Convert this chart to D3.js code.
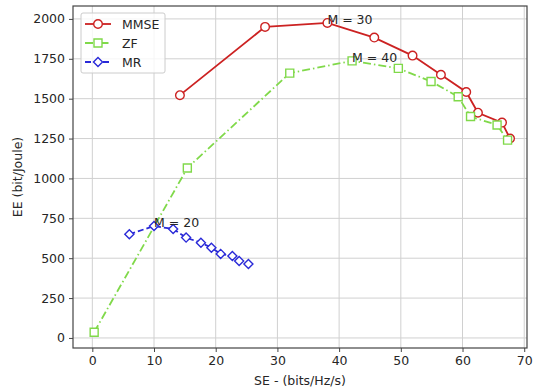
<!DOCTYPE html>
<html>
<head>
<meta charset="utf-8">
<script src="https://cdn.jsdelivr.net/npm/d3@7"></script>
<style>
  body { margin: 0; background: #fff; }
  svg text { font-family: "DejaVu Sans", sans-serif; fill: #262626; }
</style>
</head>
<body>
<svg id="chart"></svg>
<script>
// data
let mmseSE = [14.2, 28.0, 38.1, 45.7, 51.9, 56.5, 60.6, 62.5, 66.4, 67.7]
let mmseEE = [1522, 1950, 1975, 1883, 1770, 1650, 1542, 1412, 1350, 1250]

let zfSE = [0.3, 15.4, 32.0, 42.1, 49.6, 54.9, 59.3, 61.3, 65.6, 67.3]
let zfEE = [36, 1065, 1660, 1737, 1690, 1608, 1512, 1388, 1335, 1240]

let mrSE = [6.0, 10.0, 13.1, 15.2, 17.6, 19.3, 20.8, 22.7, 23.8, 25.3]
let mrEE = [650, 702, 683, 629, 597, 566, 527, 514, 483, 464]

let xTicks = [0, 10, 20, 30, 40, 50, 60, 70]
let yTicks = [0, 250, 500, 750, 1000, 1250, 1500, 1750, 2000]

let labels = [
  {text: 'M = 30', x: 38.1, y: 1975},
  {text: 'M = 40', x: 42.1, y: 1737},
  {text: 'M = 20', x: 10.0, y: 702}
]

let w = 535
let h = 390
let padL = 73, padR = 527, padT = 6, padB = 348
let fs = '12.5px'

let svg = d3.select('#chart').attr('width', w).attr('height', h)

let xScale = d3.scaleLinear().domain([-3.13, 70.45]).range([padL, padR])
let yScale = d3.scaleLinear().domain([-63, 2081]).range([padB, padT])

// grid
svg.append('g')
  .selectAll('line')
  .data(xTicks)
  .enter()
  .append('line')
  .attr('x1', d => xScale(d)).attr('x2', d => xScale(d))
  .attr('y1', padT).attr('y2', padB)
  .attr('stroke', '#d0d0d0').attr('stroke-width', 1)

svg.append('g')
  .selectAll('line')
  .data(yTicks)
  .enter()
  .append('line')
  .attr('x1', padL).attr('x2', padR)
  .attr('y1', d => yScale(d)).attr('y2', d => yScale(d))
  .attr('stroke', '#d0d0d0').attr('stroke-width', 1)

// axes
let xAxis = d3.axisBottom(xScale).tickValues(xTicks).tickFormat(d3.format('d')).tickSize(4).tickPadding(4).tickSizeOuter(0)
let yAxis = d3.axisLeft(yScale).tickValues(yTicks).tickFormat(d3.format('d')).tickSize(4).tickPadding(4).tickSizeOuter(0)

let gx = svg.append('g').attr('transform', 'translate(0,' + padB + ')').call(xAxis)
let gy = svg.append('g').attr('transform', 'translate(' + padL + ',0)').call(yAxis)
;[gx, gy].forEach(g => {
  g.select('.domain').remove()
  g.selectAll('line').attr('stroke', '#444')
  g.selectAll('text').style('font-size', fs).attr('fill', '#262626')
})

svg.append('rect')
  .attr('x', padL).attr('y', padT)
  .attr('width', padR - padL).attr('height', padB - padT)
  .attr('fill', 'none').attr('stroke', '#444').attr('stroke-width', 1.2)

svg.append('text')
  .attr('x', (padL + padR) / 2).attr('y', 385)
  .attr('text-anchor', 'middle').style('font-size', fs)
  .text('SE - (bits/Hz/s)')

svg.append('text')
  .attr('transform', 'translate(22,' + ((padT + padB) / 2) + ') rotate(-90)')
  .attr('text-anchor', 'middle').style('font-size', fs)
  .text('EE (bit/Joule)')

let series = [
  {name: 'MMSE', xs: mmseSE, ys: mmseEE, color: '#cc2222', dash: null, shape: d3.symbolCircle, size: 58},
  {name: 'ZF', xs: zfSE, ys: zfEE, color: '#80d94a', dash: '8,3,1.5,3', shape: d3.symbolSquare, size: 64},
  {name: 'MR', xs: mrSE, ys: mrEE, color: '#2a2ad8', dash: '6,3', shape: d3.symbolDiamond2, size: 52}
]

let line = d3.line().x(d => xScale(d[0])).y(d => yScale(d[1]))

series.forEach(s => {
  let pts = s.xs.map((x, i) => [x, s.ys[i]])
  svg.append('path')
    .datum(pts)
    .attr('d', line)
    .attr('fill', 'none')
    .attr('stroke', s.color)
    .attr('stroke-width', 1.8)
    .attr('stroke-dasharray', s.dash)
  svg.append('g')
    .selectAll('path')
    .data(pts)
    .enter()
    .append('path')
    .attr('d', d3.symbol().type(s.shape).size(s.size))
    .attr('transform', d => 'translate(' + xScale(d[0]) + ',' + yScale(d[1]) + ')')
    .attr('fill', '#fff')
    .attr('stroke', s.color)
    .attr('stroke-width', 1.4)
})

svg.selectAll('.ann')
  .data(labels)
  .enter()
  .append('text')
  .attr('class', 'ann')
  .attr('x', d => xScale(d.x))
  .attr('y', d => yScale(d.y))
  .attr('dy', 1)
  .style('font-size', fs)
  .text(d => d.text)

// legend
let lg = svg.append('g').attr('transform', 'translate(81,13)')
lg.append('rect')
  .attr('width', 84).attr('height', 60).attr('rx', 2)
  .attr('fill', '#fff').attr('fill-opacity', 0.8)
  .attr('stroke', '#ccc')

series.forEach((s, i) => {
  let y = 11 + i * 19
  lg.append('line')
    .attr('x1', 4).attr('x2', 30).attr('y1', y).attr('y2', y)
    .attr('stroke', s.color).attr('stroke-width', 1.8)
    .attr('stroke-dasharray', s.dash)
  lg.append('path')
    .attr('d', d3.symbol().type(s.shape).size(s.size))
    .attr('transform', 'translate(17,' + y + ')')
    .attr('fill', '#fff').attr('stroke', s.color).attr('stroke-width', 1.4)
  lg.append('text')
    .attr('x', 41).attr('y', y + 4.5)
    .style('font-size', fs)
    .text(s.name)
})
</script>
</body>
</html>
